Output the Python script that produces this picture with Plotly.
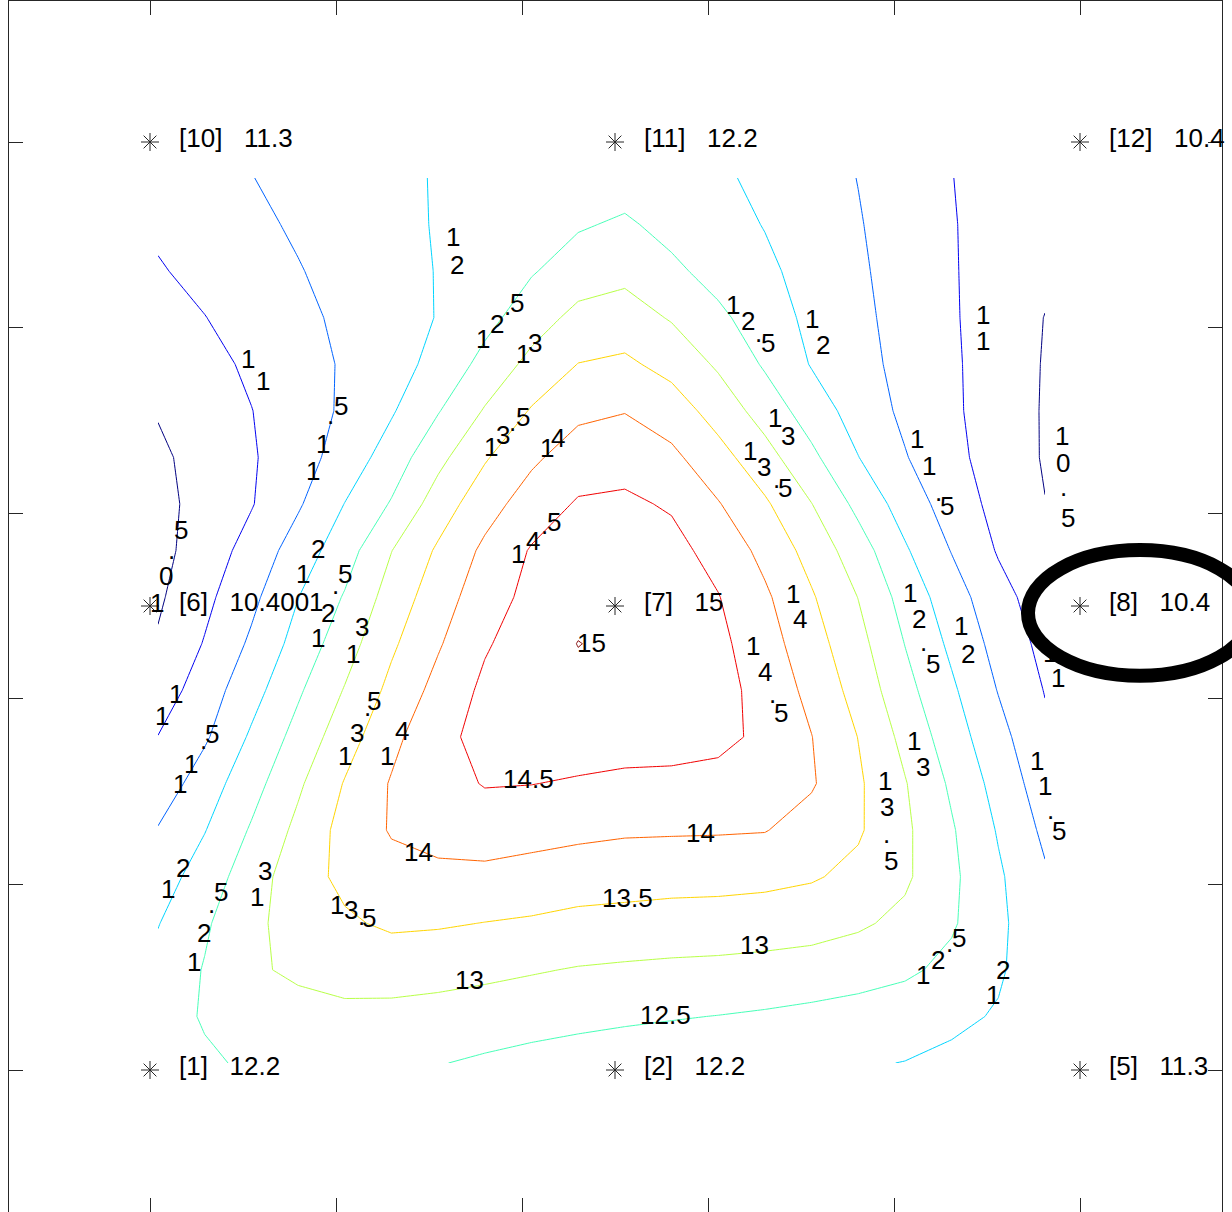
import numpy as np
import plotly.graph_objects as go

# ---------------------------------------------------------------------------
# Station readings (site units; stations sit on a 3 x 3 layout)
# ---------------------------------------------------------------------------
STATION_IDS = [1, 2, 5, 6, 7, 8, 10, 11, 12]
STATION_X = [0, 465, 930, 0, 465, 930, 0, 465, 930]
STATION_Y = [0, 0, 0, 465, 465, 465, 930, 930, 930]
STATION_VALUES = [12.2, 12.2, 11.3, 10.4001, 15, 10.4, 11.3, 12.2, 10.4]

# ---------------------------------------------------------------------------
# Gridded field (20 x 20). Rows are listed from the north edge southwards.
# ---------------------------------------------------------------------------
GRID_X = np.linspace(8, 895, 20)
GRID_Y = np.linspace(7, 894, 20)          # south -> north
FIELD_ROWS_NORTH_TO_SOUTH = [
    [11.25, 11.36, 11.49, 11.63, 11.77, 11.90, 12.03, 12.10, 12.16, 12.23, 12.28, 12.18, 12.07, 11.90, 11.70, 11.49, 11.25, 11.01, 10.80, 10.65],
    [11.08, 11.24, 11.40, 11.56, 11.72, 11.88, 12.03, 12.17, 12.30, 12.45, 12.57, 12.35, 12.19, 11.98, 11.76, 11.53, 11.28, 11.03, 10.80, 10.62],
    [10.96, 11.13, 11.30, 11.475, 11.65, 11.83, 12.02, 12.25, 12.46, 12.74, 12.87, 12.60, 12.33, 12.10, 11.82, 11.57, 11.30, 11.04, 10.78, 10.59],
    [10.80, 10.99, 11.19, 11.39, 11.59, 11.80, 12.02, 12.34, 12.77, 13.14, 13.22, 12.96, 12.60, 12.25, 11.88, 11.61, 11.33, 11.05, 10.77, 10.49],
    [10.65, 10.85, 11.08, 11.31, 11.55, 11.83, 12.13, 12.66, 13.14, 13.51, 13.59, 13.34, 12.93, 12.44, 11.97, 11.66, 11.36, 11.07, 10.77, 10.47],
    [10.53, 10.75, 10.99, 11.27, 11.57, 11.95, 12.47, 13.04, 13.54, 13.89, 13.98, 13.75, 13.30, 12.79, 12.26, 11.79, 11.40, 11.08, 10.77, 10.46],
    [10.41, 10.68, 10.95, 11.29, 11.71, 12.23, 12.86, 13.45, 13.91, 14.24, 14.33, 14.11, 13.68, 13.19, 12.61, 12.01, 11.53, 11.13, 10.79, 10.46],
    [10.36, 10.66, 10.97, 11.44, 12.01, 12.54, 13.24, 13.80, 14.23, 14.55, 14.58, 14.45, 14.03, 13.57, 13.01, 12.37, 11.78, 11.27, 10.85, 10.51],
    [10.35, 10.74, 11.18, 11.73, 12.28, 12.99, 13.57, 14.10, 14.54, 14.70, 14.72, 14.65, 14.33, 13.86, 13.32, 12.73, 12.06, 11.48, 10.96, 10.62],
    [10.43, 10.88, 11.38, 11.99, 12.54, 13.21, 13.77, 14.27, 14.64, 14.86, 14.88, 14.77, 14.52, 14.08, 13.55, 12.99, 12.31, 11.73, 11.17, 10.75],
    [10.55, 11.03, 11.58, 12.18, 12.78, 13.42, 13.95, 14.45, 14.75, 15.01, 14.90, 14.82, 14.62, 14.21, 13.71, 13.16, 12.49, 11.90, 11.33, 10.86],
    [10.73, 11.25, 11.81, 12.43, 13.03, 13.63, 14.16, 14.60, 14.78, 14.88, 14.88, 14.81, 14.66, 14.34, 13.86, 13.32, 12.66, 12.08, 11.48, 10.98],
    [11.01, 11.43, 12.07, 12.67, 13.28, 13.86, 14.38, 14.63, 14.72, 14.75, 14.72, 14.68, 14.62, 14.40, 14.01, 13.49, 12.86, 12.24, 11.66, 11.10],
    [11.20, 11.75, 12.31, 12.92, 13.53, 14.04, 14.30, 14.53, 14.51, 14.45, 14.39, 14.39, 14.35, 14.19, 14.05, 13.57, 13.03, 12.42, 11.82, 11.24],
    [11.53, 11.98, 12.55, 13.12, 13.67, 14.04, 14.15, 14.22, 14.17, 14.11, 14.06, 14.05, 14.04, 14.02, 13.80, 13.56, 13.09, 12.55, 11.96, 11.40],
    [11.76, 12.23, 12.76, 13.28, 13.62, 13.83, 13.90, 13.89, 13.82, 13.75, 13.71, 13.68, 13.67, 13.63, 13.55, 13.37, 13.08, 12.60, 12.07, 11.56],
    [11.98, 12.43, 12.90, 13.18, 13.43, 13.58, 13.55, 13.49, 13.44, 13.36, 13.33, 13.29, 13.27, 13.24, 13.18, 13.07, 12.88, 12.56, 12.10, 11.65],
    [12.15, 12.53, 12.95, 13.06, 13.16, 13.20, 13.17, 13.11, 13.04, 12.97, 12.93, 12.90, 12.88, 12.84, 12.80, 12.71, 12.59, 12.37, 12.06, 11.70],
    [12.25, 12.55, 12.80, 12.88, 12.90, 12.87, 12.82, 12.76, 12.69, 12.62, 12.57, 12.53, 12.49, 12.44, 12.37, 12.30, 12.22, 12.10, 11.96, 11.72],
    [12.25, 12.42, 12.58, 12.72, 12.70, 12.62, 12.52, 12.43, 12.35, 12.30, 12.25, 12.20, 12.16, 12.12, 12.08, 12.04, 11.99, 11.90, 11.70, 11.55],
]

LEVEL_START, LEVEL_END, LEVEL_STEP = 10.5, 15.0, 0.5

# Contour-label placement: level value and the anchor of each glyph.
# A single anchor means the label is written as one horizontal string.
CONTOUR_LABELS = [
    (11, [(98, 713), (113, 690)]),
    (11.5, [(163, 600), (173, 627), (180, 647), (191, 665)]),
    (10.5, [(7, 468), (16, 495), (21, 512), (31, 541)]),
    (12, [(303, 835), (307, 807)]),
    (12.5, [(333, 733), (347, 748), (357, 757), (367, 769)]),
    (13, [(373, 718), (385, 729)]),
    (13.5, [(341, 624), (353, 636), (362, 640), (373, 654)]),
    (14, [(397, 623), (408, 633)]),
    (14.5, [(368, 517), (383, 530), (394, 537), (404, 549)]),
    (12.5, [(583, 767), (598, 751), (608, 730), (618, 729)]),
    (12, [(662, 753), (673, 727)]),
    (13, [(625, 653), (638, 635)]),
    (13.5, [(600, 620), (614, 604), (626, 583), (635, 583)]),
    (14, [(643, 477), (650, 452)]),
    (14.5, [(603, 425), (615, 399), (622, 368), (631, 358)]),
    (11, [(833, 757), (833, 731)]),
    (11.5, [(767, 632), (779, 605), (788, 570), (797, 565)]),
    (10.5, [(912, 635), (913, 608), (913, 575), (918, 553)]),
    (12.5, [(760, 478), (769, 452), (773, 420), (783, 407)]),
    (12, [(811, 445), (818, 417)]),
    (11, [(900, 418), (908, 393)]),
    (11.5, [(887, 310), (895, 285), (900, 252), (909, 240)]),
    (13, [(764, 330), (773, 304)]),
    (13.5, [(735, 290), (737, 264), (736, 227), (741, 209)]),
    (12.5, [(773, 95), (788, 110), (799, 118), (809, 132)]),
    (12, [(843, 75), (853, 100)]),
    (12.5, [(515, 55)]),
    (13, [(604, 125)]),
    (13, [(319, 90)]),
    (13.5, [(477, 172)]),
    (14, [(550, 238)]),
    (14.5, [(378, 292)]),
    (14, [(268, 218)]),
    (13.5, [(187, 165), (201, 160), (211, 145), (219, 152)]),
    (13, [(107, 173), (115, 199)]),
    (12.5, [(44, 108), (54, 137), (61, 157), (71, 178)]),
    (12, [(18, 181), (33, 202)]),
    (11.5, [(30, 287), (41, 307), (53, 322), (62, 337)]),
    (11, [(12, 355), (26, 377)]),
    (12, [(153, 497), (168, 522)]),
    (12.5, [(168, 433), (178, 458), (185, 477), (195, 497)]),
    (13, [(203, 417), (212, 444)]),
    (13.5, [(195, 315), (207, 338), (217, 355), (224, 370)]),
    (14, [(237, 315), (252, 340)]),
    (15, [(441, 428)]),
]

# Highlight ring around station 8 (centre and semi-axes in site units)
RING_CENTER = (990, 458)
RING_SEMI_AXES = (112, 63)

# ---------------------------------------------------------------------------
X_RANGE = [-141, 1072]
Y_RANGE = [-142.3, 1071.3]
TICKS = [0, 186, 372, 558, 744, 930]
AXIS_COLOR = "#262626"
FONT = "Liberation Sans, Arial, Helvetica, sans-serif"
TEXT_SIZE = 26

# MATLAB-style jet colour map
JET = [
    [0.0, "rgb(0,0,128)"],
    [0.125, "rgb(0,0,255)"],
    [0.375, "rgb(0,255,255)"],
    [0.625, "rgb(255,255,0)"],
    [0.875, "rgb(255,0,0)"],
    [1.0, "rgb(128,0,0)"],
]

fig = go.Figure()

fig.add_trace(go.Contour(
    x=GRID_X,
    y=GRID_Y,
    z=FIELD_ROWS_NORTH_TO_SOUTH[::-1],
    autocontour=False,
    contours=dict(start=LEVEL_START, end=LEVEL_END, size=LEVEL_STEP,
                  coloring="lines", showlabels=False),
    colorscale=JET,
    zmin=9.94, zmax=15.5,
    line=dict(width=1, smoothing=0),
    showscale=False,
    hoverinfo="skip",
))

fig.add_trace(go.Scatter(
    x=STATION_X, y=STATION_Y, mode="markers",
    marker=dict(symbol="asterisk-open", size=15, color=AXIS_COLOR,
                line=dict(width=1, color=AXIS_COLOR)),
    hoverinfo="skip", showlegend=False,
))

annotations = []
gap = "\u00a0" * 3
for sid, sx, sy, val in zip(STATION_IDS, STATION_X, STATION_Y, STATION_VALUES):
    annotations.append(dict(
        x=sx, y=sy, xref="x", yref="y", text=f"[{sid}]{gap}{val:g}",
        showarrow=False, xanchor="left", yanchor="middle", xshift=27, yshift=4,
        font=dict(family=FONT, size=TEXT_SIZE, color="black"),
    ))

for level, anchors in CONTOUR_LABELS:
    text = f"{level:g}"
    if len(anchors) == 1:
        ax, ay = anchors[0]
        annotations.append(dict(
            x=ax, y=ay, xref="x", yref="y", text=text, showarrow=False,
            xanchor="center", yanchor="middle",
            font=dict(family=FONT, size=TEXT_SIZE, color="black"),
        ))
        continue
    for ch, (ax, ay) in zip(text, anchors):
        annotations.append(dict(
            x=ax, y=ay, xref="x", yref="y", text=ch, showarrow=False,
            xanchor="center", yanchor="middle", yshift=9 if ch == "." else 0,
            font=dict(family=FONT, size=TEXT_SIZE, color="black"),
        ))


def to_paper(v, rng):
    return (v - rng[0]) / (rng[1] - rng[0])


cx, cy = RING_CENTER
rx, ry = RING_SEMI_AXES
ring = dict(
    type="circle", xref="paper", yref="paper", layer="above",
    x0=to_paper(cx - rx, X_RANGE), x1=to_paper(cx + rx, X_RANGE),
    y0=to_paper(cy - ry, Y_RANGE), y1=to_paper(cy + ry, Y_RANGE),
    line=dict(color="black", width=14),
)

axis_common = dict(
    tickvals=TICKS, ticks="inside", ticklen=14, tickwidth=1, tickcolor=AXIS_COLOR,
    showticklabels=False, showline=True, linecolor=AXIS_COLOR, linewidth=1,
    mirror="ticks", showgrid=False, zeroline=False, fixedrange=True,
)

fig.update_layout(
    width=1232, height=1212,
    margin=dict(l=9, r=10, t=1, b=0, pad=0, autoexpand=False),
    paper_bgcolor="white", plot_bgcolor="white",
    showlegend=False,
    xaxis=dict(range=X_RANGE, **axis_common),
    yaxis=dict(range=Y_RANGE, **axis_common),
    annotations=annotations,
    shapes=[ring],
)

fig.write_html("out.html")
